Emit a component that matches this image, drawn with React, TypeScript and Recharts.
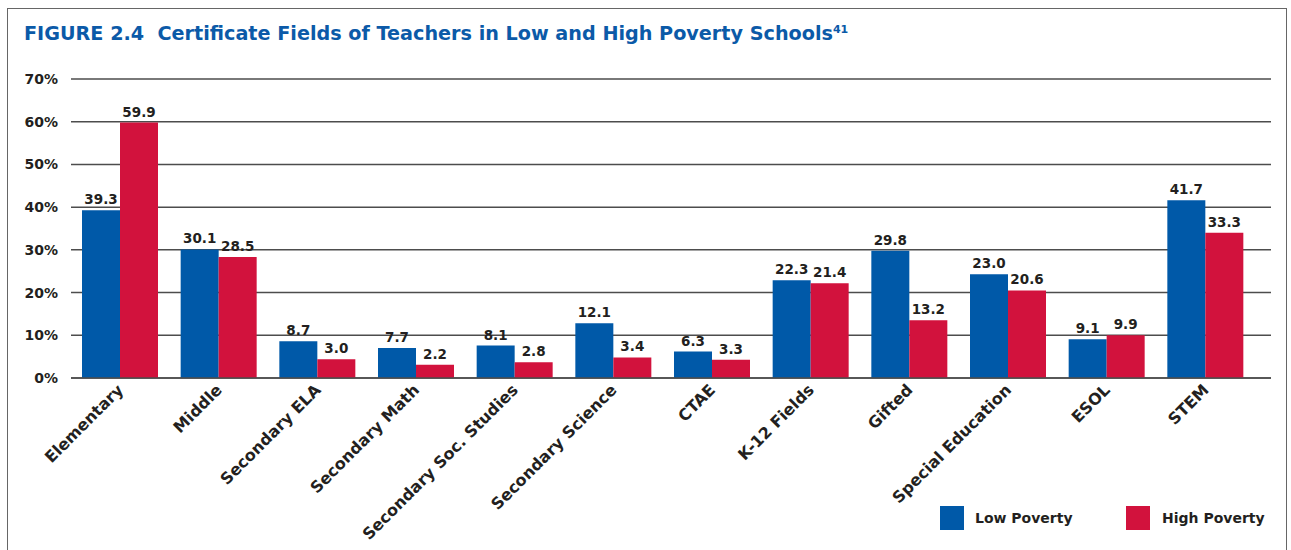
import { BarChart, Bar, CartesianGrid, XAxis, YAxis, LabelList } from "recharts";

const categories = [
  "Elementary",
  "Middle",
  "Secondary ELA",
  "Secondary Math",
  "Secondary Soc. Studies",
  "Secondary Science",
  "CTAE",
  "K-12 Fields",
  "Gifted",
  "Special Education",
  "ESOL",
  "STEM",
];

// bar heights as drawn in the figure
const lowPoverty = [39.3, 30.1, 8.6, 7.0, 7.6, 12.8, 6.2, 22.9, 29.8, 24.3, 9.1, 41.6];
const highPoverty = [59.8, 28.3, 4.4, 3.1, 3.7, 4.8, 4.3, 22.2, 13.5, 20.5, 10.0, 34.0];

// printed value labels
const lowLabels = ["39.3", "30.1", "8.7", "7.7", "8.1", "12.1", "6.3", "22.3", "29.8", "23.0", "9.1", "41.7"];
const highLabels = ["59.9", "28.5", "3.0", "2.2", "2.8", "3.4", "3.3", "21.4", "13.2", "20.6", "9.9", "33.3"];

const yTicks = [0, 10, 20, 30, 40, 50, 60, 70];

const data = categories.map((name, i) => ({
  name,
  low: lowPoverty[i],
  high: highPoverty[i],
  lowLabel: lowLabels[i],
  highLabel: highLabels[i],
}));

const BLUE = "#0059a8";
const RED = "#d2123d";
const TEXT = "#231f20";
const FONT = "'DejaVu Sans', sans-serif";

function AngledTick({ x, y, payload }: any) {
  const tx = x + 4;
  const ty = y + 5;
  return (
    <text
      x={tx}
      y={ty}
      transform={`rotate(-45, ${tx}, ${ty})`}
      textAnchor="end"
      fill={TEXT}
      fontSize={16}
      fontWeight={700}
      fontFamily={FONT}
    >
      {payload.value}
    </text>
  );
}

export default function App() {
  return (
    <div
      style={{
        position: "absolute",
        left: 0,
        top: 0,
        width: 1291,
        height: 550,
        overflow: "hidden",
        background: "#fff",
        fontFamily: FONT,
      }}
    >
      <div
        style={{
          position: "absolute",
          left: 7,
          top: 8,
          width: 1278,
          height: 560,
          border: "1px solid #666",
        }}
      />
      <div
        style={{
          position: "absolute",
          left: 24,
          top: 19,
          fontSize: 19.2,
          fontWeight: 700,
          color: "#0b5aa8",
          whiteSpace: "pre",
          lineHeight: "22px",
        }}
      >
        {"FIGURE 2.4  Certificate Fields of Teachers in Low and High Poverty Schools"}
        <sup style={{ fontSize: 11 }}>41</sup>
      </div>

      <div style={{ position: "absolute", left: 0, top: 0 }}>
        <BarChart
          width={1291}
          height={550}
          data={data}
          barGap={0}
          barSize={38}
          margin={{ top: 79, right: 20, left: 11, bottom: 2 }}
        >
          <CartesianGrid vertical={false} stroke="#4d4d4d" strokeWidth={1.5} />
          <XAxis
            dataKey="name"
            interval={0}
            height={170}
            axisLine={{ stroke: "#4d4d4d", strokeWidth: 1.5 }}
            tickLine={false}
            padding={{ left: 0, right: 16 }}
            tick={<AngledTick />}
          />
          <YAxis
            width={60}
            domain={[0, 70]}
            ticks={yTicks}
            axisLine={false}
            tickLine={false}
            tickMargin={7}
            tickFormatter={(v: number) => `${v}%`}
            tick={{ fill: TEXT, fontSize: 14, fontWeight: 700, fontFamily: FONT }}
          />
          <Bar dataKey="low" fill={BLUE} isAnimationActive={false}>
            <LabelList
              dataKey="lowLabel"
              position="top"
              offset={6}
              fill={TEXT}
              fontSize={13.5}
              fontWeight={700}
              fontFamily={FONT}
            />
          </Bar>
          <Bar dataKey="high" fill={RED} isAnimationActive={false}>
            <LabelList
              dataKey="highLabel"
              position="top"
              offset={6}
              fill={TEXT}
              fontSize={13.5}
              fontWeight={700}
              fontFamily={FONT}
            />
          </Bar>
        </BarChart>
      </div>

      <div
        style={{
          position: "absolute",
          left: 940,
          top: 506,
          display: "flex",
          alignItems: "center",
          fontSize: 14,
          fontWeight: 700,
          color: TEXT,
        }}
      >
        <span style={{ width: 24, height: 24, background: BLUE, display: "inline-block" }} />
        <span style={{ marginLeft: 11, width: 151 }}>Low Poverty</span>
        <span style={{ width: 24, height: 24, background: RED, display: "inline-block" }} />
        <span style={{ marginLeft: 12 }}>High Poverty</span>
      </div>
    </div>
  );
}
